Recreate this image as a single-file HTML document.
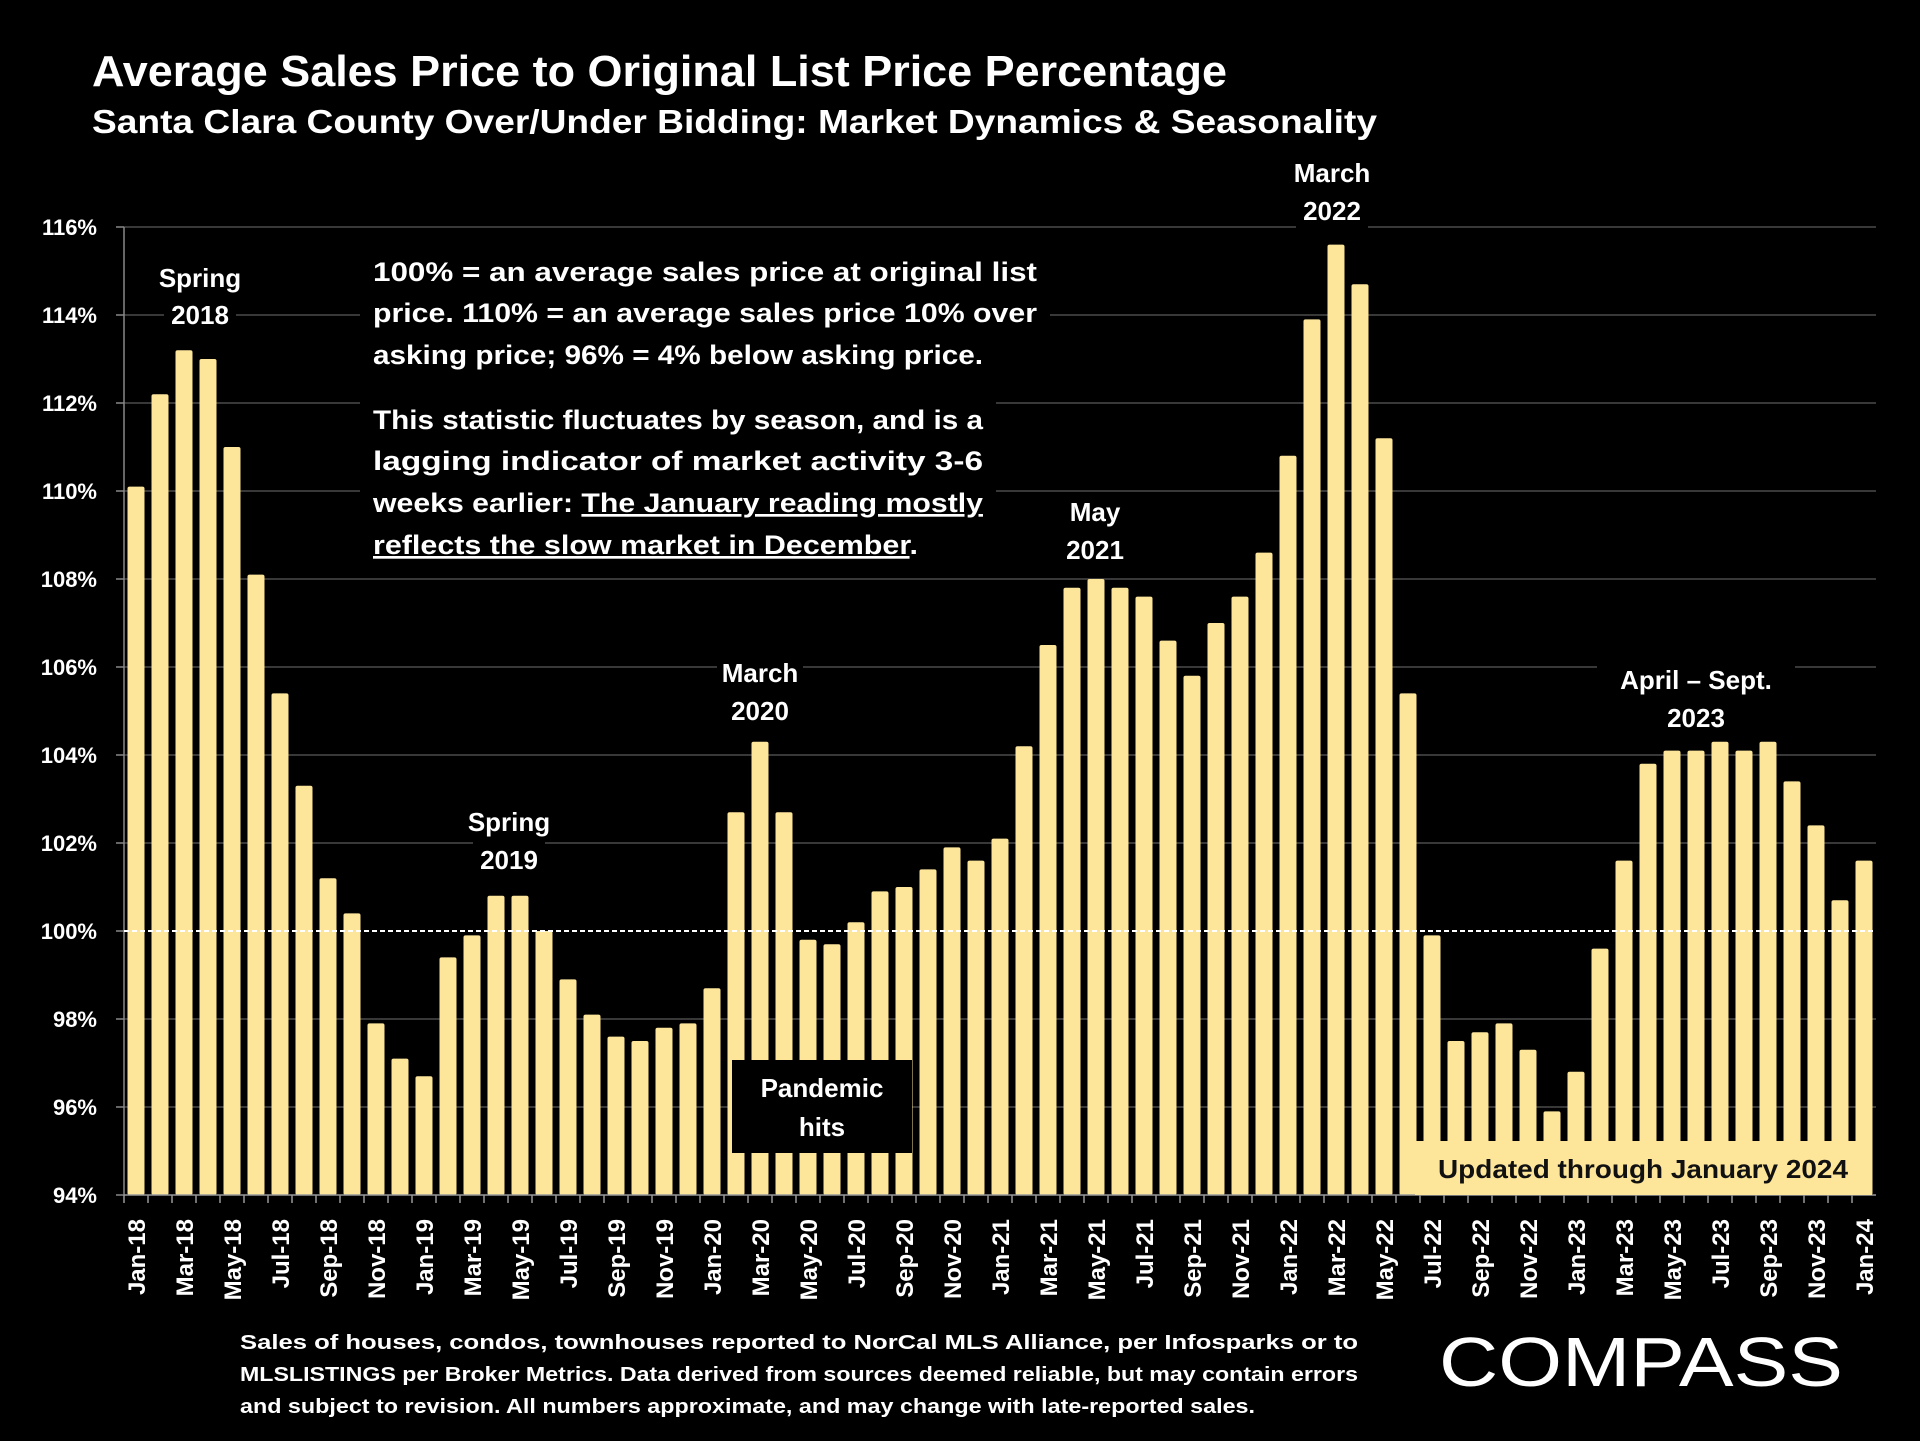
<!DOCTYPE html>
<html><head><meta charset="utf-8"><style>
html,body{margin:0;padding:0;background:#000;}
svg{display:block;font-family:"Liberation Sans",sans-serif;font-weight:bold;}
</style></head><body>
<svg id="c" width="1920" height="1441" viewBox="0 0 1920 1441">
<rect width="1920" height="1441" fill="#000"/>
<text x="92" y="86" fill="#fff" font-size="44" textLength="1135" lengthAdjust="spacingAndGlyphs">Average Sales Price to Original List Price Percentage</text>
<text x="92" y="133" fill="#fff" font-size="33" textLength="1285" lengthAdjust="spacingAndGlyphs">Santa Clara County Over/Under Bidding: Market Dynamics &amp; Seasonality</text>
<g id="grid"></g>
<g id="bars"></g>
<g id="xlabels"></g>
<g id="notes"></g>
<g>
<rect x="732" y="1060" width="180" height="93" fill="#000"/>
<text x="822" y="1097" fill="#fff" font-size="26" text-anchor="middle">Pandemic</text>
<text x="822" y="1136" fill="#fff" font-size="26" text-anchor="middle">hits</text>
</g>
<g>
<rect x="1415" y="1141" width="457" height="54" fill="#fde59a"/>
<text x="1643" y="1178" fill="#111" font-size="26" text-anchor="middle" textLength="410" lengthAdjust="spacingAndGlyphs">Updated through January 2024</text>
</g>
<g fill="#fff" font-size="20">
<text x="240" y="1349" textLength="1118" lengthAdjust="spacingAndGlyphs">Sales of houses, condos, townhouses reported to NorCal MLS Alliance, per Infosparks or to</text>
<text x="240" y="1381" textLength="1118" lengthAdjust="spacingAndGlyphs">MLSLISTINGS per Broker Metrics. Data derived from sources deemed reliable, but may contain errors</text>
<text x="240" y="1413" textLength="1015" lengthAdjust="spacingAndGlyphs">and subject to revision. All numbers approximate, and may change with late-reported sales.</text>
</g>
<text x="1439" y="1386" fill="#fff" font-size="70" font-weight="normal" textLength="404" lengthAdjust="spacingAndGlyphs">COMPASS</text>
</svg>
<script>
const categories = ["Jan-18","Feb-18","Mar-18","Apr-18","May-18","Jun-18","Jul-18","Aug-18","Sep-18","Oct-18","Nov-18","Dec-18",
"Jan-19","Feb-19","Mar-19","Apr-19","May-19","Jun-19","Jul-19","Aug-19","Sep-19","Oct-19","Nov-19","Dec-19",
"Jan-20","Feb-20","Mar-20","Apr-20","May-20","Jun-20","Jul-20","Aug-20","Sep-20","Oct-20","Nov-20","Dec-20",
"Jan-21","Feb-21","Mar-21","Apr-21","May-21","Jun-21","Jul-21","Aug-21","Sep-21","Oct-21","Nov-21","Dec-21",
"Jan-22","Feb-22","Mar-22","Apr-22","May-22","Jun-22","Jul-22","Aug-22","Sep-22","Oct-22","Nov-22","Dec-22",
"Jan-23","Feb-23","Mar-23","Apr-23","May-23","Jun-23","Jul-23","Aug-23","Sep-23","Oct-23","Nov-23","Dec-23","Jan-24"];
const values = [110.1,112.2,113.2,113.0,111.0,108.1,105.4,103.3,101.2,100.4,97.9,97.1,
96.7,99.4,99.9,100.8,100.8,100.0,98.9,98.1,97.6,97.5,97.8,97.9,
98.7,102.7,104.3,102.7,99.8,99.7,100.2,100.9,101.0,101.4,101.9,101.6,
102.1,104.2,106.5,107.8,108.0,107.8,107.6,106.6,105.8,107.0,107.6,108.6,
110.8,113.9,115.6,114.7,111.2,105.4,99.9,97.5,97.7,97.9,97.3,95.9,
96.8,99.6,101.6,103.8,104.1,104.1,104.3,104.1,104.3,103.4,102.4,100.7,101.6];
const yTicks = [94,96,98,100,102,104,106,108,110,112,114,116];
const NS="http://www.w3.org/2000/svg";
const L=124, R=1876, T=227, B=1195, yMin=94, yMax=116;
const step=(R-L)/categories.length;
function y(v){return B-(v-yMin)/(yMax-yMin)*(B-T);}
function x(i){return L+step*(i+0.5);}
function mk(tag,attrs,parent){const e=document.createElementNS(NS,tag);for(const k in attrs)e.setAttribute(k,attrs[k]);parent.appendChild(e);return e;}
const grid=document.getElementById('grid');
yTicks.forEach(t=>{
  if(t!==94 && t!==100){
    const g=mk('line',{x1:L,x2:R,y1:y(t),y2:y(t),stroke:'#4a4a4a','stroke-width':1.5},grid);
    
    
  }
  mk('line',{x1:L-8,x2:L,y1:y(t),y2:y(t),stroke:'#888','stroke-width':1.5},grid);
  const lb=mk('text',{x:97,y:y(t)+8,fill:'#fff','font-size':22,'text-anchor':'end'},grid);
  lb.textContent=t+'%';
  
  
});
mk('line',{x1:L,x2:L,y1:T,y2:B,stroke:'#888','stroke-width':1.5},grid);
const bars=document.getElementById('bars');
values.forEach((v,i)=>{
  const r=mk('rect',{x:x(i)-8.5,y:y(v),width:17,height:B-y(v),rx:2,fill:'#fde59a'},bars);
  
  
});
const ref=mk('line',{x1:L,x2:R,y1:y(100),y2:y(100),stroke:'#fff','stroke-width':2,'stroke-dasharray':'5,3'},bars);


mk('line',{x1:L,x2:R,y1:B,y2:B,stroke:'#999','stroke-width':1.5},bars);
const xl=document.getElementById('xlabels');
categories.forEach((c,i)=>{
  mk('line',{x1:L+step*i,x2:L+step*i,y1:B,y2:B+8,stroke:'#999','stroke-width':1.5},xl);
  if(i%2===0){
    const t=mk('text',{transform:`translate(${x(i)+9},1219) rotate(-90)`,fill:'#fff','font-size':24,'text-anchor':'end'},xl);
    t.textContent=c;
    
    
  }
});
const notes=document.getElementById('notes');
function note(lines,cx,ys,name){
  const g=mk('g',{},notes);
  
  
  lines.forEach((s,k)=>{
    const w=s.length*14+16;
    mk('rect',{x:cx-w/2,y:ys[k]-20,width:w,height:38,fill:'#000'},g);
    const t=mk('text',{x:cx,y:ys[k]+9,fill:'#fff','font-size':26,'text-anchor':'middle'},g);
    t.textContent=s;
  });
}
note(["Spring","2018"],200,[278,315],'annotation-spring-2018');
note(["Spring","2019"],509,[822,860],'annotation-spring-2019');
note(["March","2020"],760,[673,711],'annotation-march-2020');
note(["May","2021"],1095,[512,550],'annotation-may-2021');
note(["March","2022"],1332,[173,211],'annotation-march-2022');
note(["April \u2013 Sept.","2023"],1696,[680,718],'annotation-april-sept-2023');
const para=[["100% = an average sales price at original list",271,664,false],
["price. 110% = an average sales price 10% over",312,664,false],
["asking price; 96% = 4% below asking price.",354,610,false],
["This statistic fluctuates by season, and is a",419,610,false],
["lagging indicator of market activity 3-6",460,610,false],
["weeks earlier: |The January reading mostly",502,610,true],
["|reflects the slow market in December|.",544,545,true]];
const pg=mk('g',{},notes);


para.forEach(([s,yy,w])=>{
  mk('rect',{x:360,y:yy-24,width:w+26,height:42,fill:'#000'},pg);
  const t=mk('text',{x:373,y:yy+10,fill:'#fff','font-size':27,textLength:w,lengthAdjust:'spacingAndGlyphs'},pg);
  const parts=s.split('|');
  parts.forEach((p,k)=>{
    const ts=mk('tspan',{},t);
    if(k%2===1) ts.setAttribute('text-decoration','underline');
    ts.textContent=p;
  });
});
</script>
</body></html>
